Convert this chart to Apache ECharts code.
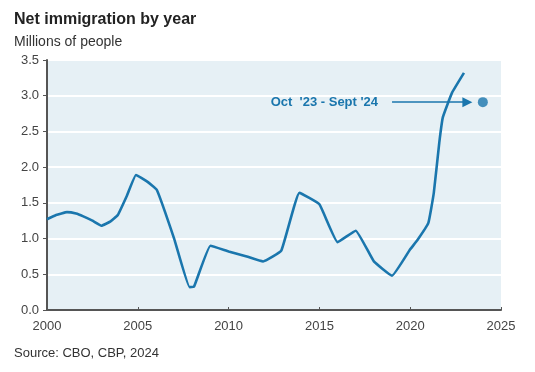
<!DOCTYPE html>
<html><head><meta charset="utf-8">
<script src="https://cdn.jsdelivr.net/npm/echarts@6/dist/echarts.min.js"></script>
<style>html,body{margin:0;padding:0;background:#fff}#c{width:535px;height:372px}</style>
</head><body><div id="c"></div>
<script>
const years = [2000.0,2000.5,2001.1,2001.6,2002.0,2002.5,2003.0,2003.5,2003.9,2004.4,2004.9,2005.5,2006.05,2007.0,2007.85,2008.1,2009.0,2010.0,2011.0,2011.9,2012.9,2013.9,2015.0,2016.0,2017.0,2018.0,2019.0,2020.0,2020.4,2021.0,2021.3,2021.6,2021.8,2022.3,2022.96];
const values = [1.27,1.33,1.37,1.35,1.31,1.25,1.18,1.24,1.33,1.60,1.89,1.80,1.68,1.00,0.32,0.33,0.90,0.82,0.75,0.68,0.83,1.64,1.48,0.95,1.11,0.68,0.48,0.85,0.98,1.22,1.64,2.34,2.70,3.04,3.32];
const fyPoint = [2024, 2.91];
const arrowFrom = [2019.0, 2.91];
const arrowTo = [2023.15, 2.91];
const annotationText = "Oct  '23 - Sept '24";
const xTicks = [2000, 2025, 5];
const yTicks = [0, 3.5, 0.5];

const blue = '#1a76ad';
const chart = echarts.init(document.getElementById('c'));
chart.setOption({
  animation: false,
  textStyle: {fontFamily: 'Liberation Sans, Arial, sans-serif'},
  title: [
    {text: 'Net immigration by year', left: 9, top: 7, textStyle: {fontSize: 16, fontWeight: 'bold', color: '#222'}},
    {text: 'Millions of people', left: 9, top: 30, textStyle: {fontSize: 14, fontWeight: 'normal', color: '#333'}},
    {text: 'Source: CBO, CBP, 2024', left: 9, top: 342, textStyle: {fontSize: 13, fontWeight: 'normal', color: '#333'}}
  ],
  grid: {left: 47, right: 34, top: 60, bottom: 62, show: true, backgroundColor: '#e6f0f5', borderWidth: 0},
  xAxis: {
    type: 'value', min: xTicks[0], max: xTicks[1], interval: xTicks[2],
    axisLine: {show: true, lineStyle: {color: '#555', width: 2}},
    axisTick: {show: true, inside: true, length: 3, lineStyle: {color: '#555'}},
    axisLabel: {color: '#444', fontSize: 13, margin: 10, formatter: v => String(v)},
    splitLine: {show: false}
  },
  yAxis: {
    type: 'value', min: yTicks[0], max: yTicks[1], interval: yTicks[2],
    axisLine: {show: true, lineStyle: {color: '#555', width: 2}},
    axisTick: {show: true, length: 4, lineStyle: {color: '#555'}},
    axisLabel: {color: '#444', fontSize: 13, margin: 8, formatter: v => v.toFixed(1)},
    splitLine: {show: true, lineStyle: {color: '#ffffff', width: 2}}
  },
  series: [
    {
      type: 'line', data: years.map((y, i) => [y, values[i]]),
      showSymbol: false, smooth: 0.1,
      lineStyle: {color: blue, width: 2.6}, z: 3,
      markLine: {
        silent: true, animation: false,
        symbol: ['none', 'triangle'], symbolSize: [10, 10],
        lineStyle: {color: blue, width: 1.5, type: 'solid'},
        label: {show: true, position: 'start', distance: 14, formatter: annotationText, color: blue, fontSize: 13, fontWeight: 'bold'},
        data: [[{coord: arrowFrom}, {coord: arrowTo}]]
      }
    },
    {
      type: 'scatter', data: [fyPoint], symbolSize: 10,
      itemStyle: {color: blue}, z: 4
    }
  ]
});
</script></body></html>
